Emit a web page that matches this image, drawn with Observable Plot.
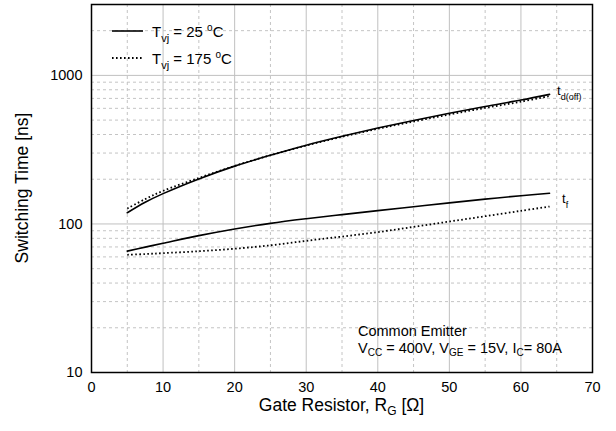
<!DOCTYPE html>
<html>
<head>
<meta charset="utf-8">
<script src="https://cdn.jsdelivr.net/npm/d3@7"></script>
<script src="https://cdn.jsdelivr.net/npm/@observablehq/plot@0.6"></script>
<style>
  html, body { margin: 0; padding: 0; background: #fff; }
  svg text { font-family: "Liberation Sans", Arial, sans-serif; }
</style>
</head>
<body>
<div id="chart"></div>
<script>
// Gate resistor values (Ω)
const rg = [5, 7.5, 10, 15, 20, 25, 30, 35, 40, 45, 50, 55, 60, 64];
// t_d(off) switching times (ns)
const tdoff25 = [119, 140, 160, 201, 245, 290, 339, 389, 442, 497, 556, 618, 682, 745];
const tdoff175 = [127, 147, 167, 204, 246, 290, 337, 386, 437, 489, 545, 604, 665, 726];
// t_f switching times (ns)
const tf25 = [65.6, 69.8, 74.1, 83.4, 92.5, 100.9, 108.4, 115.6, 123, 130.6, 138.7, 146.9, 154.9, 161];
const tf175 = [62, 62.7, 63.6, 65.5, 68.1, 71.8, 77, 82.2, 88.1, 95.5, 103.8, 112.7, 122.5, 131];

const xTicks = [0, 10, 20, 30, 40, 50, 60, 70];
const xMinor = [5, 15, 25, 35, 45, 55, 65];
const yTicks = [10, 100, 1000];
const yMinor = [20, 30, 40, 50, 60, 70, 80, 90, 200, 300, 400, 500, 600, 700, 800, 900, 2000];

const series = [
  {name: "td25", temp: 25, ys: tdoff25},
  {name: "td175", temp: 175, ys: tdoff175},
  {name: "tf25", temp: 25, ys: tf25},
  {name: "tf175", temp: 175, ys: tf175}
];
const rows = series.flatMap(s => rg.map((x, i) => ({x, y: s.ys[i], name: s.name, temp: s.temp})));

const font = '"Liberation Sans", Arial, sans-serif';

const chart = Plot.plot({
  width: 616,
  height: 431,
  marginLeft: 91,
  marginRight: 24,
  marginTop: 4,
  marginBottom: 59,
  style: {fontFamily: font, fontSize: "14px", background: "#fff", color: "#000"},
  x: {domain: [0, 70]},
  y: {type: "log", domain: [10, 3000]},
  marks: [
    Plot.ruleX(xMinor, {stroke: "#c4c4c4", strokeWidth: 1, strokeDasharray: "3,3"}),
    Plot.ruleY(yMinor, {stroke: "#c4c4c4", strokeWidth: 1, strokeDasharray: "3,3"}),
    Plot.ruleX(xTicks.slice(1, -1), {stroke: "#c0c0c0", strokeWidth: 1}),
    Plot.ruleY([100, 1000], {stroke: "#c0c0c0", strokeWidth: 1}),
    Plot.line(rows.filter(d => d.temp === 25), {x: "x", y: "y", z: "name", stroke: "#000", strokeWidth: 1.6, curve: "catmull-rom"}),
    Plot.line(rows.filter(d => d.temp === 175), {x: "x", y: "y", z: "name", stroke: "#000", strokeWidth: 1.8, strokeDasharray: "1.6,2.4", strokeLinecap: "butt", curve: "catmull-rom"}),
    Plot.frame({stroke: "#000", strokeWidth: 1.5}),
    Plot.axisX({ticks: xTicks, tickSize: 0, tickPadding: 9, label: null, fontSize: 14.5}),
    Plot.axisY({ticks: yTicks, tickFormat: d => String(d), tickSize: 0, tickPadding: 9, label: null, fontSize: 14.5})
  ]
});
document.getElementById("chart").appendChild(chart);

const svg = d3.select(chart);
const sx = chart.scale("x").apply, sy = chart.scale("y").apply;
const last = rg.length - 1;

const g = svg.append("g").attr("text-anchor", "start").attr("fill", "#000");

function label(x, y, main, subtxt) {
  const t = g.append("text").attr("x", x).attr("y", y).attr("text-anchor", "start")
    .attr("font-size", 13).style("font-family", font);
  t.append("tspan").text(main);
  t.append("tspan").attr("font-size", 9).attr("dy", 5).text(subtxt);
}
// Curve labels
label(sx(rg[last]) + 8, sy(tdoff25[last]) + 1, "t", "d(off)");
label(sx(rg[last]) + 13, sy(tf25[last]) + 10, "t", "f");

// Legend
g.append("line").attr("x1", 112).attr("x2", 143).attr("y1", 31).attr("y2", 31)
  .attr("stroke", "#000").attr("stroke-width", 1.6);
g.append("line").attr("x1", 112).attr("x2", 143).attr("y1", 58).attr("y2", 58)
  .attr("stroke", "#000").attr("stroke-width", 1.8).attr("stroke-dasharray", "1.6,2.4");
function legendText(y, temp) {
  const t = g.append("text").attr("x", 152).attr("y", y).attr("font-size", 15)
    .attr("text-anchor", "start").style("font-family", font);
  t.append("tspan").text("T");
  t.append("tspan").attr("font-size", 11).attr("dy", 5).text("vj");
  t.append("tspan").attr("dy", -5).text(" = " + temp + " ");
  t.append("tspan").attr("font-size", 10).attr("dy", -6).text("o");
  t.append("tspan").attr("dy", 6).text("C");
}
legendText(37, 25);
legendText(64, 175);

// Annotation
g.append("text").attr("x", 358).attr("y", 336).attr("font-size", 14.5)
  .attr("text-anchor", "start").style("font-family", font).text("Common Emitter");
const a2 = g.append("text").attr("x", 358).attr("y", 353).attr("font-size", 14.5)
  .attr("text-anchor", "start").style("font-family", font);
a2.append("tspan").text("V");
a2.append("tspan").attr("font-size", 10).attr("dy", 3).text("CC");
a2.append("tspan").attr("dy", -3).text(" = 400V, V");
a2.append("tspan").attr("font-size", 10).attr("dy", 3).text("GE");
a2.append("tspan").attr("dy", -3).text(" = 15V, I");
a2.append("tspan").attr("font-size", 10).attr("dy", 3).text("C");
a2.append("tspan").attr("dy", -3).text("= 80A");

// Axis titles
const xl = g.append("text").attr("x", (91 + 592) / 2).attr("y", 411).attr("font-size", 17.5)
  .attr("text-anchor", "middle").style("font-family", font);
xl.append("tspan").text("Gate Resistor, R");
xl.append("tspan").attr("font-size", 12).attr("dy", 4).text("G");
xl.append("tspan").attr("dy", -4).text(" [Ω]");

g.append("text").attr("transform", "translate(28,188) rotate(-90)")
  .attr("font-size", 17.5).attr("text-anchor", "middle")
  .style("font-family", font).text("Switching Time [ns]");
</script>
</body>
</html>
